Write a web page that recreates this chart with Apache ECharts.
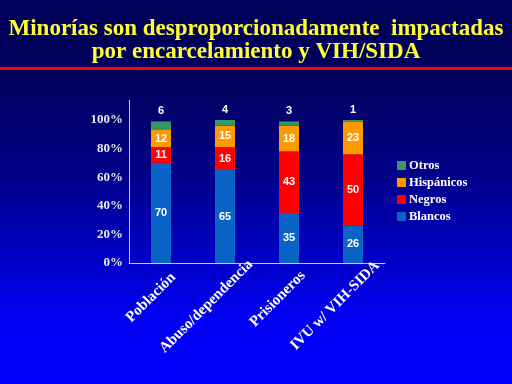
<!DOCTYPE html>
<html>
<head>
<meta charset="utf-8">
<script src="https://cdn.jsdelivr.net/npm/echarts@6/dist/echarts.min.js"></script>
<style>
html,body{margin:0;padding:0;background:#000060;}
#c{width:512px;height:384px;}
</style>
</head>
<body>
<div id="c"></div>
<script>
var categories = ['Población', 'Abuso/dependencia', 'Prisioneros', 'IVU w/ VIH-SIDA'];
var blancos = [70, 65, 35, 26];
var negros = [11, 16, 43, 50];
var hispanicos = [12, 15, 18, 23];
var otros = [6, 4, 3, 1];
var yTicks = [0, 20, 40, 60, 80, 100];

var serif = '"Liberation Serif", "Times New Roman", serif';
var sans = '"Liberation Sans", Arial, sans-serif';
var shadow = {textShadowColor: '#000', textShadowOffsetX: 1, textShadowOffsetY: 1, textShadowBlur: 0};

// Longer rotated labels sit further along their own direction (as in the original slide)
var catFontSize = 15;
var ctx = document.createElement('canvas').getContext('2d');
ctx.font = 'bold ' + catFontSize + 'px ' + serif;
var widths = categories.map(function (c) { return ctx.measureText(c).width; });
var minW = Math.min.apply(null, widths);
var catItems = categories.map(function (c, i) {
  return {value: c, textStyle: {verticalAlign: 'top', padding: [0, -10 - 0.3 * (widths[i] - minW), 0, 0]}};
});

function seg(name, data, color, pos) {
  return {
    name: name, type: 'bar', stack: 'a', data: data, barWidth: 20,
    itemStyle: {color: color},
    label: Object.assign({show: true, position: pos, color: '#fff', fontFamily: sans,
      fontWeight: 'bold', fontSize: 11}, shadow)
  };
}

var chart = echarts.init(document.getElementById('c'));
chart.setOption({
  animation: false,
  backgroundColor: {
    type: 'linear', x: 0, y: 0, x2: 0, y2: 1,
    colorStops: [
      {offset: 0, color: '#000058'},
      {offset: 0.2, color: '#00005c'},
      {offset: 0.45, color: '#000088'},
      {offset: 0.65, color: '#0000c0'},
      {offset: 0.82, color: '#0000f0'},
      {offset: 1, color: '#0000ff'}
    ]
  },
  title: {
    text: 'Minorías son desproporcionadamente  impactadas\npor encarcelamiento y VIH/SIDA',
    left: 'center', top: 13,
    textStyle: {color: '#ffff33', fontFamily: serif, fontWeight: 'bold', fontSize: 23, lineHeight: 23}
  },
  graphic: [
    {type: 'rect', left: 0, top: 67, shape: {width: 512, height: 3}, style: {fill: '#ff0000'}},
    {type: 'line', shape: {x1: 129.5, y1: 100, x2: 129.5, y2: 120}, style: {stroke: '#c8c8e8', lineWidth: 1}}
  ],
  legend: {
    orient: 'vertical', left: 392, top: 154,
    data: ['Otros', 'Hispánicos', 'Negros', 'Blancos'],
    icon: 'rect', itemWidth: 9, itemHeight: 9, itemGap: 4,
    textStyle: Object.assign({color: '#fff', fontFamily: serif, fontWeight: 'bold', fontSize: 12.5, lineHeight: 13, padding: [0, 0, 0, -2]}, shadow)
  },
  grid: {left: 129, right: 127, top: 120, bottom: 121, containLabel: false, outerBoundsMode: 'none'},
  xAxis: {
    type: 'category', data: catItems,
    axisLine: {lineStyle: {color: '#c8c8e8', width: 1}},
    axisTick: {show: false},
    axisLabel: Object.assign({rotate: 45, color: '#fff', fontFamily: serif, fontWeight: 'bold', fontSize: catFontSize,
      margin: 14, interval: 0, verticalAlign: 'top'}, shadow)
  },
  yAxis: {
    type: 'value', min: 0, max: 100, interval: 20,
    axisLine: {show: true, lineStyle: {color: '#c8c8e8', width: 1}},
    axisTick: {show: false},
    splitLine: {show: false},
    axisLabel: Object.assign({color: '#e8e8e8', fontFamily: serif, fontWeight: 'bold', fontSize: 13, margin: 6,
      formatter: function (v) { return yTicks.indexOf(v) >= 0 ? v + '%' : ''; }}, shadow)
  },
  series: [
    seg('Blancos', blancos, '#0a64c8', 'inside'),
    seg('Negros', negros, '#ff0000', 'inside'),
    seg('Hispánicos', hispanicos, '#ff9900', 'inside'),
    seg('Otros', otros, '#339966', 'top')
  ]
});
</script>
</body>
</html>
